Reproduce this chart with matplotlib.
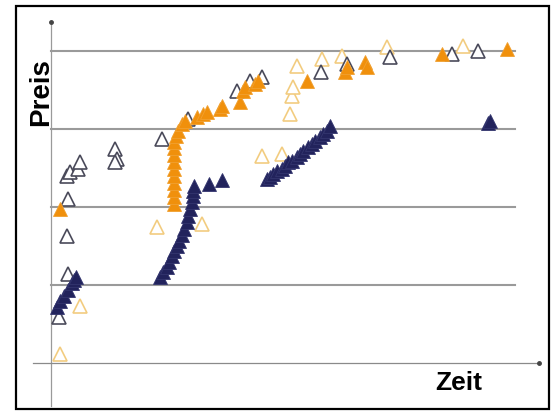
import matplotlib.pyplot as plt
from matplotlib.patches import Rectangle

# Zeit (x) and Preis (y) values, grid at 10/20/30/40
navy_x = [6, 9, 13, 17, 21, 23, 25,
          109, 112, 116, 118, 121, 123, 126, 128, 131, 133, 136, 137, 139, 141, 142, 142, 143,
          158, 171,
          216, 219, 222, 226, 231, 234, 237, 241, 246, 249, 252, 257, 261, 264, 269, 272, 276, 279,
          437, 439]
navy_y = [7.2, 7.9, 8.6, 9.4, 10.3, 10.6, 11.0,
          11.0, 11.7, 12.3, 12.9, 13.7, 14.4, 15.0, 15.6, 16.4, 17.2, 18.1, 18.8, 19.7, 20.6, 21.4, 22.1, 22.7,
          22.9, 23.5,
          23.6, 23.8, 24.2, 24.6, 24.9, 25.3, 25.8, 25.9, 26.4, 26.8, 27.2, 27.7, 28.1, 28.5, 29.0, 29.4, 29.7, 30.4,
          30.8, 31.0]

orange_x = [9,
            123, 123, 123, 123, 123, 123, 123, 123, 123, 123, 125, 127,
            131, 134, 146, 152, 156, 169, 171, 189, 192, 194, 204, 207,
            256, 294, 296, 314, 316, 391, 456]
orange_y = [19.7,
            20.4, 21.3, 22.2, 23.1, 24.0, 24.9, 25.8, 26.7, 27.6, 28.3, 29.1, 29.7,
            30.6, 31.0, 31.5, 31.9, 32.2, 32.6, 32.9, 33.5, 34.9, 35.4, 35.8, 36.2,
            36.2, 37.3, 37.9, 38.6, 37.9, 39.6, 40.3]

open_dark_x = [8, 17, 16, 17, 16, 19, 27, 29, 64, 66, 64,
               111, 137, 186, 199, 211, 270, 296, 339, 401, 427]
open_dark_y = [5.9, 11.4, 16.3, 21.0, 24.0, 24.5, 24.9, 25.8, 27.4, 26.2, 25.8,
               28.7, 31.3, 34.9, 36.2, 36.7, 37.3, 38.3, 39.2, 39.6, 40.0]

open_light_x = [9, 29, 106, 151, 211, 231, 239, 241, 242, 246, 271, 291, 336, 412]
open_light_y = [1.15, 7.3, 17.4, 17.8, 26.5, 26.8, 31.9, 34.2, 35.4, 38.1, 39.0, 39.4, 40.5, 40.6]

grid_levels = [10, 20, 30, 40]

fig = plt.figure(figsize=(5.57, 4.14), dpi=100)
ax = fig.add_axes([0, 0, 1, 1])
ax.set_xlim(-51, 506)
ax.set_ylim(-6.41, 46.67)
ax.axis('off')

# frame round the whole picture
fig.patches.append(Rectangle((16 / 557, 1 - 410 / 414), 533 / 557, 403 / 414,
                             transform=fig.transFigure, fill=False,
                             edgecolor='black', linewidth=1.6))

# horizontal reference lines
for lvl in grid_levels:
    ax.plot([0, 464], [lvl, lvl], color='#9a9a9a', lw=1.5, zorder=1)

# axes with dot ends
ax.plot([0, 0], [-5.5, 43.7], color='#9a9a9a', lw=0.9, zorder=1)
ax.plot([-18, 488], [0, 0], color='#8a8a8a', lw=0.9, zorder=1)
ax.plot([0], [43.7], 'o', color='#444444', ms=2.5)
ax.plot([488], [0], 'o', color='#444444', ms=2.5)

ms = 9.5
ax.plot(open_light_x, open_light_y, '^', ls='none', ms=ms, mfc='white',
        mec='#f2cc80', mew=1.2, zorder=2)
ax.plot(open_dark_x, open_dark_y, '^', ls='none', ms=ms, mfc='white',
        mec='#4a4a5a', mew=1.2, zorder=3)
ax.plot(orange_x, orange_y, '^', ls='none', ms=ms, mfc='#f0900c',
        mec='#f0a030', mew=0.6, zorder=4)
ax.plot(navy_x, navy_y, '^', ls='none', ms=ms, mfc='#22235c',
        mec='#33356e', mew=0.6, zorder=5)

fonts = ['Liberation Sans Narrow', 'Liberation Sans', 'DejaVu Sans']
fig.text(41 / 557, 1 - 92 / 414, 'Preis', rotation=90, fontsize=20,
         fontweight='bold', family=fonts, ha='center', va='center')
fig.text(459 / 557, 1 - 383 / 414, 'Zeit', fontsize=19,
         fontweight='bold', family=fonts, ha='center', va='center')

plt.savefig('out.png', dpi=100)
